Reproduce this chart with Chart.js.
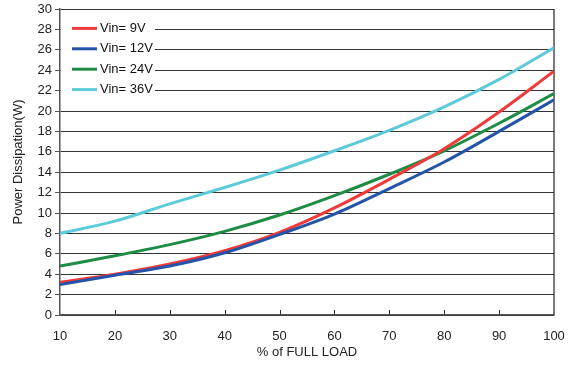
<!DOCTYPE html>
<html>
<head>
<meta charset="utf-8">
<script src="https://cdn.jsdelivr.net/npm/chart.js@4.4.1/dist/chart.umd.min.js"></script>
<style>
  html, body { margin: 0; padding: 0; background: #fff; }
</style>
</head>
<body>
<canvas id="myChart" width="574" height="365"></canvas>
<script>
// % of full load
const loadPct = [10, 20, 30, 40, 50, 60, 70, 80, 90, 100];

// power dissipation (W)
const vin9  = [3.2, 4.0, 5.0, 6.3, 8.1, 10.5, 13.3, 16.3, 19.9, 23.9];
const vin12 = [3.0, 3.9, 4.8, 6.1, 7.9, 9.9, 12.4, 15.0, 18.0, 21.1];
const vin24 = [4.8, 5.8, 6.9, 8.2, 9.8, 11.7, 13.8, 16.1, 18.8, 21.7];
const vin36 = [8.0, 9.2, 10.9, 12.5, 14.2, 16.1, 18.1, 20.4, 23.1, 26.2];

const seriesLabels = ['Vin= 9V', 'Vin= 12V', 'Vin= 24V', 'Vin= 36V'];
const seriesColors = ['#f03a3a', '#2454a8', '#1e8c44', '#5ccad8'];

const FONT = '"Liberation Sans", Arial, sans-serif';

const toPoints = (arr) => arr.map((v, i) => ({ x: loadPct[i], y: v }));

// legend drawn inside the plot, on a white patch over the grid
const insideLegend = {
  id: 'insideLegend',
  afterDraw(chart) {
    const { ctx, chartArea } = chart;
    const rowH = chartArea.height / 15;
    ctx.save();
    ctx.fillStyle = '#fff';
    ctx.fillRect(chartArea.left + 1, chartArea.top + rowH * 0.5, 94, rowH * 4);
    chart.data.datasets.forEach((ds, i) => {
      const y = chartArea.top + rowH * (i + 1) - 1;
      ctx.strokeStyle = ds.borderColor;
      ctx.lineWidth = 3;
      ctx.beginPath();
      ctx.moveTo(chartArea.left + 12, y);
      ctx.lineTo(chartArea.left + 37, y);
      ctx.stroke();
      ctx.fillStyle = '#111';
      ctx.font = '13px ' + FONT;
      ctx.textBaseline = 'middle';
      ctx.fillText(ds.label, chartArea.left + 40, y);
    });
    ctx.restore();
  }
};

// small tick marks pointing up into the plot on the x axis
const innerTicks = {
  id: 'innerTicks',
  afterDatasetsDraw(chart) {
    const { ctx, chartArea, scales } = chart;
    ctx.save();
    ctx.strokeStyle = '#333';
    ctx.lineWidth = 1;
    scales.x.ticks.forEach((t) => {
      if (t.value <= scales.x.min || t.value >= scales.x.max) return;
      const px = Math.round(scales.x.getPixelForValue(t.value)) + 0.5;
      ctx.beginPath();
      ctx.moveTo(px, chartArea.bottom);
      ctx.lineTo(px, chartArea.bottom - 5);
      ctx.stroke();
    });
    ctx.restore();
  }
};

const ctx = document.getElementById('myChart').getContext('2d');

const datasets = [vin9, vin12, vin24, vin36].map((arr, i) => ({
  label: seriesLabels[i],
  data: toPoints(arr),
  borderColor: seriesColors[i],
  backgroundColor: seriesColors[i],
  borderWidth: 3,
  pointRadius: 0,
  cubicInterpolationMode: 'monotone',
  fill: false,
  order: i === 1 ? 0 : i + 1
}));

new Chart(ctx, {
  type: 'line',
  data: { datasets: datasets },
  options: {
    responsive: false,
    animation: false,
    layout: { padding: { top: 9, right: 20, left: 0, bottom: 0 } },
    plugins: {
      legend: { display: false },
      tooltip: { enabled: false }
    },
    scales: {
      x: {
        type: 'linear',
        min: 10,
        max: 100,
        ticks: {
          stepSize: 10,
          padding: 14,
          maxRotation: 0,
          color: '#222',
          font: { family: FONT, size: 13 }
        },
        grid: {
          drawTicks: false,
          lineWidth: 2,
          color: (c) => (c.tick && c.tick.value === 100 ? '#7a7a7a' : 'rgba(0,0,0,0)')
        },
        border: { color: '#555', width: 1.5 },
        title: {
          display: true,
          text: '% of FULL LOAD',
          color: '#222',
          font: { family: FONT, size: 13 },
          padding: { top: 0, bottom: 5 }
        },
        afterFit: (s) => { s.height = 50; s.paddingLeft = 0; s.paddingRight = 0; }
      },
      y: {
        min: 0,
        max: 30,
        ticks: {
          stepSize: 2,
          padding: 3,
          color: '#222',
          font: { family: FONT, size: 13 }
        },
        grid: {
          color: '#333',
          lineWidth: 1,
          tickLength: 5,
          tickColor: '#555'
        },
        border: { color: '#555', width: 1.5 },
        title: {
          display: true,
          text: 'Power Dissipation(W)',
          color: '#222',
          font: { family: FONT, size: 13 },
          padding: { top: 11, bottom: 0 }
        },
        afterFit: (s) => { s.width = 60; s.paddingTop = 0; s.paddingBottom = 0; }
      }
    }
  },
  plugins: [innerTicks, insideLegend]
});
</script>
</body>
</html>
